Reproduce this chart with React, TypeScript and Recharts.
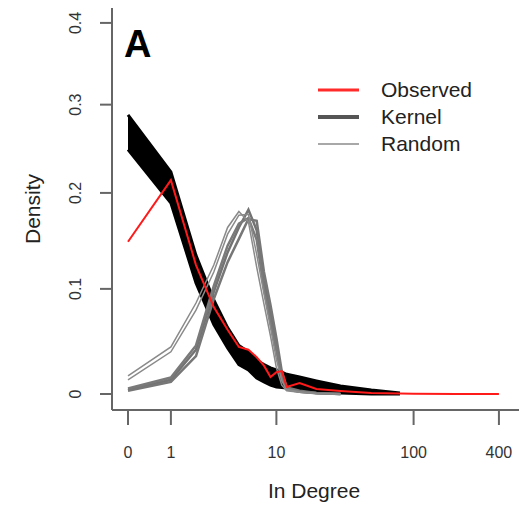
import React from 'react';
import { ComposedChart, Line, Area, XAxis, YAxis, Legend, Label } from 'recharts';

// In-degree values (x), drawn on a log10(x + 1) axis
const degrees = [0, 1, 2, 3, 4, 5, 6, 7, 8, 9, 10, 11, 12, 15, 20, 30, 50, 80, 100, 200, 400];

// Observed density
const observed = [0.148, 0.214, 0.124, 0.082, 0.06, 0.0436, 0.041, 0.034, 0.026, 0.0155, 0.02, 0.021, 0.0064, 0.01, 0.0045, 0.0027, 0.0009, 0.0005, 0.0003, 0.0001, 0];

// Kernel simulations: envelope of the many runs (upper and lower edge)
const kernelHigh = [0.288, 0.223, 0.134, 0.089, 0.062, 0.045, 0.039, 0.031, 0.027, 0.024, 0.022, 0.02, 0.018, 0.0155, 0.012, 0.0073, 0.0036, 0.0009, null, null, null];
const kernelLow = [0.248, 0.189, 0.106, 0.065, 0.0426, 0.027, 0.022, 0.0146, 0.011, 0.008, 0.0064, 0.006, 0.0055, 0.0036, 0.0027, 0.0009, 0, 0, null, null, null];

// Random simulations (two groups of runs)
const random1a = [0.0165, 0.0436, 0.086, 0.124, 0.163, 0.18, 0.169, 0.122, 0.085, 0.054, 0.024, 0.008, 0.003, 0.0015, 0.0005, 0, null, null, null, null, null];
const random1b = [0.013, 0.039, 0.079, 0.117, 0.156, 0.176, 0.177, 0.135, 0.095, 0.062, 0.032, 0.012, 0.004, 0.002, 0.0006, 0, null, null, null, null, null];
const random2a = [0.0036, 0.013, 0.041, 0.097, 0.137, 0.163, 0.182, 0.16, 0.108, 0.075, 0.045, 0.018, 0.005, 0.002, 0.0008, 0, null, null, null, null, null];
const random2b = [0.003, 0.011, 0.035, 0.09, 0.127, 0.151, 0.172, 0.17, 0.117, 0.084, 0.052, 0.021, 0.006, 0.003, 0.001, 0, null, null, null, null, null];
const random2c = [0.005, 0.015, 0.045, 0.103, 0.144, 0.167, 0.173, 0.15, 0.1, 0.068, 0.04, 0.015, 0.004, 0.002, 0.0007, 0, null, null, null, null, null];

const xTickValues = [0, 1, 10, 100, 400];
const xTickLabels = ['0', '1', '10', '100', '400'];
const yTickValues = [0, 0.1, 0.2, 0.3, 0.4];
const yTickLabels = ['0', '0.1', '0.2', '0.3', '0.4'];

const legendItems = [
  { label: 'Observed', color: '#ff2a2a', width: 3 },
  { label: 'Kernel', color: '#555555', width: 4 },
  { label: 'Random', color: '#a8a8a8', width: 2 },
];

const t = (v: number | null) => (v === null || v === undefined ? null : Math.log10(1 + v));

const data = degrees.map((d, i) => ({
  lx: t(d),
  obs: t(observed[i]),
  kband: kernelHigh[i] === null ? null : [t(kernelLow[i]), t(kernelHigh[i])],
  r1a: t(random1a[i]),
  r1b: t(random1b[i]),
  r2a: t(random2a[i]),
  r2b: t(random2b[i]),
  r2c: t(random2c[i]),
}));

const xTicks = xTickValues.map((v) => t(v) as number);
const yTicks = yTickValues.map((v) => t(v) as number);

const FONT = '"Liberation Sans", Arial, sans-serif';

const XTick = (props: any) => {
  const { x, y, payload } = props;
  const idx = xTicks.findIndex((v) => Math.abs(v - payload.value) < 1e-9);
  return (
    <text x={x} y={y} textAnchor="middle" fontSize={16} fill="#333" fontFamily={FONT}>
      {xTickLabels[idx]}
    </text>
  );
};

const YTick = (props: any) => {
  const { x, y, payload } = props;
  const idx = yTicks.findIndex((v) => Math.abs(v - payload.value) < 1e-9);
  return (
    <text x={x} y={y} transform={`rotate(-90 ${x} ${y})`} textAnchor="middle" fontSize={16} fill="#333" fontFamily={FONT}>
      {yTickLabels[idx]}
    </text>
  );
};

const LegendContent = () => (
  <div style={{ fontFamily: FONT }}>
    {legendItems.map((it) => (
      <div key={it.label} style={{ display: 'flex', alignItems: 'center', height: 27 }}>
        <svg width={41} height={10} style={{ display: 'block' }}>
          <line x1={0} y1={5} x2={41} y2={5} stroke={it.color} strokeWidth={it.width} />
        </svg>
        <span style={{ marginLeft: 22, fontSize: 21, color: '#222', lineHeight: '27px' }}>{it.label}</span>
      </div>
    ))}
  </div>
);

export default function App() {
  return (
    <div style={{ position: 'absolute', left: 0, top: 0, width: 519, height: 505, background: '#fff' }}>
      <ComposedChart width={519} height={505} data={data} margin={{ top: 8, right: 0, bottom: 0, left: 0 }}>
        <XAxis
          type="number"
          dataKey="lx"
          domain={[-0.1123, 2.744]}
          allowDataOverflow
          ticks={xTicks}
          interval={0}
          tick={<XTick />}
          tickSize={15}
          tickMargin={33}
          height={95}
          axisLine={{ stroke: '#666', strokeWidth: 2 }}
          tickLine={{ stroke: '#666', strokeWidth: 2 }}
        >
          <Label
            content={() => (
              <text x={314} y={498} textAnchor="middle" fontSize={21} fill="#222" fontFamily={FONT}>
                In Degree
              </text>
            )}
          />
        </XAxis>
        <YAxis
          type="number"
          domain={[-0.0063, 0.152]}
          allowDataOverflow
          ticks={yTicks}
          interval={0}
          tick={<YTick />}
          tickSize={12}
          tickMargin={19}
          width={112}
          axisLine={{ stroke: '#666', strokeWidth: 2 }}
          tickLine={{ stroke: '#666', strokeWidth: 2 }}
        >
          <Label
            content={() => (
              <text x={40} y={209} transform="rotate(-90 40 209)" textAnchor="middle" fontSize={21} fill="#222" fontFamily={FONT}>
                Density
              </text>
            )}
          />
        </YAxis>
        <Area
          type="linear"
          dataKey="kband"
          stroke="#000"
          strokeWidth={3}
          fill="#000"
          fillOpacity={1}
          isAnimationActive={false}
          legendType="none"
          dot={false}
          activeDot={false}
        />
        <Line type="linear" dataKey="r2a" stroke="#737373" strokeWidth={2.5} dot={false} isAnimationActive={false} legendType="none" />
        <Line type="linear" dataKey="r2b" stroke="#777777" strokeWidth={2.5} dot={false} isAnimationActive={false} legendType="none" />
        <Line type="linear" dataKey="r2c" stroke="#7a7a7a" strokeWidth={2.5} dot={false} isAnimationActive={false} legendType="none" />
        <Line type="linear" dataKey="r1a" stroke="#8a8a8a" strokeWidth={1.5} dot={false} isAnimationActive={false} legendType="none" />
        <Line type="linear" dataKey="r1b" stroke="#8a8a8a" strokeWidth={1.5} dot={false} isAnimationActive={false} legendType="none" />
        <Line type="linear" dataKey="obs" stroke="#ff1a1a" strokeWidth={2} dot={false} isAnimationActive={false} legendType="none" />
        <Legend
          layout="vertical"
          align="center"
          verticalAlign="middle"
          wrapperStyle={{ left: 318, top: 76, width: 200, height: 81 }}
          content={<LegendContent />}
        />
      </ComposedChart>
      <div
        style={{
          position: 'absolute',
          left: 124,
          top: 22,
          fontFamily: FONT,
          fontSize: 38,
          fontWeight: 'bold',
          color: '#000',
          lineHeight: '44px',
        }}
      >
        A
      </div>
    </div>
  );
}
